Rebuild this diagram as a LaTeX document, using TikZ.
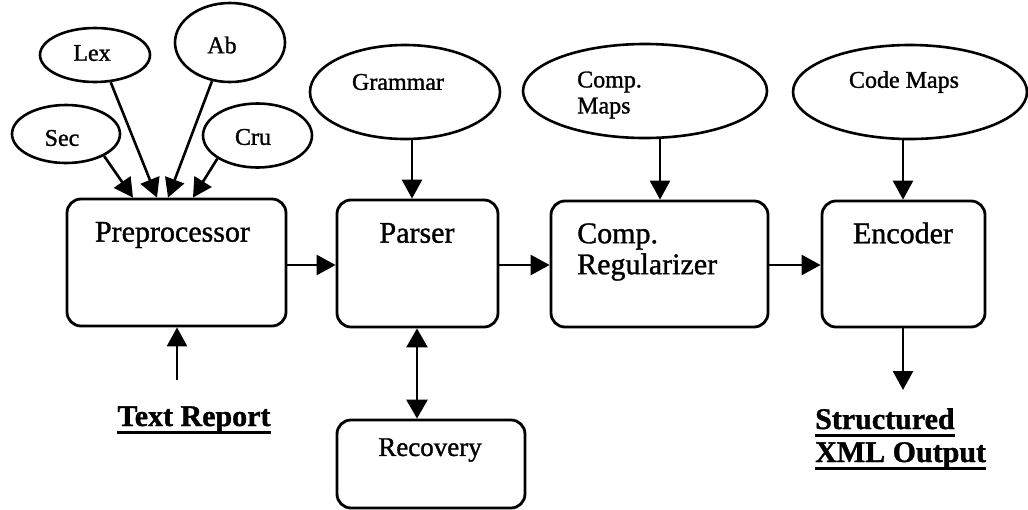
\documentclass[tikz,border=0pt]{standalone}
\usepackage{fontspec}
\setmainfont{Liberation Serif}[FakeBold=1.2]
\newcommand{\thkul}[1]{\leavevmode\setbox0\hbox{#1}\rlap{\vrule height -5pt depth 8pt width \wd0}\box0}
\usetikzlibrary{arrows.meta,shapes.geometric}
\begin{document}
\begin{tikzpicture}[x=1pt,y=-1pt,
  box/.style={draw,line width=2.8pt,rounded corners=14pt,inner sep=0pt},
  oval/.style={draw,ellipse,line width=2.6pt,inner sep=0pt},
  arr/.style={line width=2.6pt,-{Triangle[length=19pt,width=20pt]}},
  darr/.style={line width=2.6pt,{Triangle[length=19pt,width=21pt]}-{Triangle[length=19pt,width=21pt]}},
  big/.style={font=\fontsize{30}{31}\selectfont,inner sep=0pt},
  mid/.style={font=\fontsize{27}{29}\selectfont,inner sep=0pt},
  small/.style={font=\fontsize{24}{26}\selectfont,inner sep=0pt},
  outlabel/.style={font=\bfseries\fontsize{30}{33}\selectfont,inner sep=0pt},
]
\useasboundingbox (0,0) rectangle (1028,509);

% boxes
\node[box,minimum width=219pt,minimum height=127pt] (pp) at (176.5,262.5) {};
\node[box,minimum width=161pt,minimum height=127pt] (parser) at (417.5,263.5) {};
\node[box,minimum width=217pt,minimum height=126pt] (reg) at (659.5,264) {};
\node[box,minimum width=163pt,minimum height=126pt] (enc) at (903.5,264) {};
\node[box,minimum width=188pt,minimum height=88pt] (rec) at (431,464) {};

% box texts
\node[big] (ppt) at (172.5,235) {Preprocessor};
\node[big] (parsert) at (417,233) {Parser};
\node[big,anchor=west,align=left] (regt) at (577,252) {Comp.\\Regularizer};
\node[big] (enct) at (903,233) {Encoder};
\node[mid] (rect) at (430,450) {Recovery};

% ellipses
\node[oval,minimum width=108pt,minimum height=58pt] (sec) at (66,134) {};
\node[oval,minimum width=110pt,minimum height=54pt] (lex) at (95,55) {};
\node[oval,minimum width=110pt,minimum height=79pt] (ab) at (230,42.5) {};
\node[oval,minimum width=109pt,minimum height=64pt] (cru) at (257.5,135.5) {};
\node[oval,minimum width=190pt,minimum height=94pt] (gram) at (405,92) {};
\node[oval,minimum width=244pt,minimum height=94pt] (cmaps) at (645,91) {};
\node[oval,minimum width=234pt,minimum height=94pt] (codem) at (910,92) {};

% ellipse texts
\node[small] (sect) at (62,138) {Sec};
\node[small] (lext) at (92,53) {Lex};
\node[small] (abt) at (222,45) {Ab};
\node[small] (crut) at (253,137) {Cru};
\node[small] (gramt) at (398,82) {Grammar};
\node[small,anchor=west,align=left] (cmapst) at (577,95) {Comp.\\Maps};
\node[small] (codemt) at (904,82) {Code Maps};

% outside texts
\node[outlabel,anchor=base] (textrep) at (194,426) {\thkul{Text Report}};
\node[outlabel,anchor=base west] (xmlout1) at (815,429) {\thkul{Structured}};
\node[outlabel,anchor=base west] (xmlout2) at (815,462) {\thkul{XML Output}};
\coordinate (inrep) at (177,380);
\coordinate (outxml) at (903,390);

% arrows into preprocessor
\draw[arr] (sec.330) -- ([xshift=-43.5pt]pp.north);
\draw[arr] (lex.300) -- ([xshift=-19.5pt]pp.north);
\draw[arr] (ab.245) -- ([xshift=-8.5pt]pp.north);
\draw[arr] (cru.210) -- ([xshift=16.5pt]pp.north);
\draw[arr] (inrep) -- (inrep |- pp.south);

% main flow
\draw[arr] (pp.east |- 0,265) -- (parser.west |- 0,265);
\draw[arr] (parser.east |- 0,265) -- (reg.west |- 0,265);
\draw[arr] (reg.east |- 0,265) -- (enc.west |- 0,265);

% resources
\draw[arr] (gram.south -| 412,0) -- (parser.north -| 412,0);
\draw[arr] (cmaps.south -| 660,0) -- (reg.north -| 660,0);
\draw[arr] (codem.south -| 903,0) -- (enc.north -| 903,0);
\draw[darr] (parser.south -| 417,0) -- (rec.north -| 417,0);
\draw[arr] (enc.south -| outxml) -- (outxml);
\end{tikzpicture}
\end{document}
